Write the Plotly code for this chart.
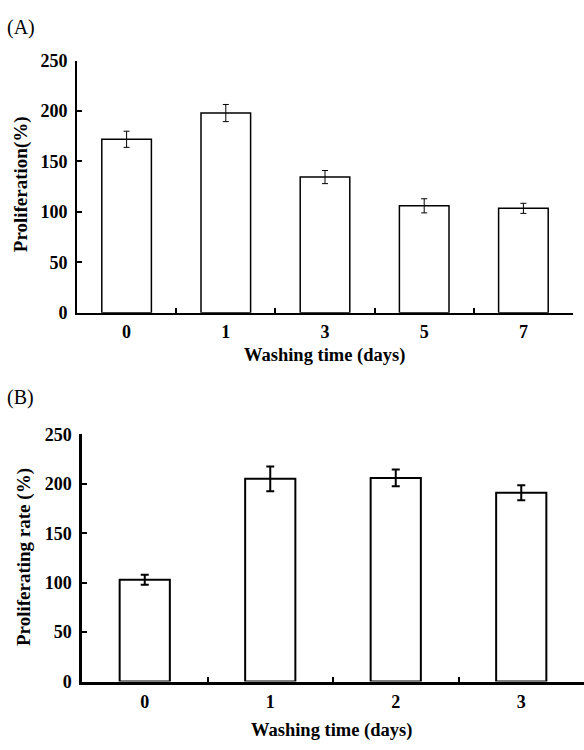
import plotly.graph_objects as go

# Panel A data
cats_a = ["0", "1", "3", "5", "7"]
vals_a = [172, 198, 134.5, 106, 103.5]
err_a = [8, 8.5, 6.5, 7, 5]

# Panel B data
cats_b = ["0", "1", "2", "3"]
vals_b = [103, 205, 206, 191]
err_b = [5, 12.5, 8.5, 7.5]

yticks = [0, 50, 100, 150, 200, 250]

W, H = 584, 750
FONT = "Liberation Serif"

fig = go.Figure()

fig.add_trace(go.Bar(
    x=cats_a, y=vals_a, width=0.5,
    marker=dict(color="white", line=dict(color="black", width=1.5)),
    error_y=dict(type="data", array=err_a, color="black", thickness=1, width=3),
    xaxis="x", yaxis="y", showlegend=False,
))
fig.add_trace(go.Bar(
    x=cats_b, y=vals_b, width=0.4,
    marker=dict(color="white", line=dict(color="black", width=2)),
    error_y=dict(type="data", array=err_b, color="black", thickness=2, width=4),
    xaxis="x2", yaxis="y2", showlegend=False,
))

def px_x(p):
    return p / W

def px_y(p):
    return 1 - p / H

tickfont = dict(family=FONT, size=18, color="black", weight="bold")

common_x = dict(type="category", showline=True, linecolor="black",
                ticks="inside", ticklen=5, tickcolor="black", tickwidth=2,
                tickson="boundaries", showgrid=False, zeroline=False,
                tickfont=tickfont, ticklabelstandoff=2)
common_y = dict(showline=True, linecolor="black", ticks="inside", ticklen=5,
                tickcolor="black", tickwidth=2, tickvals=yticks,
                showgrid=False, zeroline=False, range=[0, 250],
                tickfont=tickfont, ticklabelstandoff=4)

fig.update_layout(
    width=W, height=H,
    margin=dict(l=0, r=0, t=0, b=0),
    paper_bgcolor="white", plot_bgcolor="white",
    bargap=0.5,
    xaxis=dict(domain=[px_x(77), px_x(573)], anchor="y", range=[-0.5, 4.5],
               linewidth=2, **common_x),
    yaxis=dict(domain=[px_y(311), px_y(52)], anchor="x", linewidth=2, **common_y),
    xaxis2=dict(domain=[px_x(82), 1.0], anchor="y2", range=[-0.5, 3.5],
                linewidth=2.5, **common_x),
    yaxis2=dict(domain=[px_y(690), px_y(436)], anchor="x2", linewidth=2.5, **common_y),
    annotations=[
        dict(text="(A)", x=px_x(5), y=px_y(18), xref="paper", yref="paper",
             xanchor="left", yanchor="middle", showarrow=False,
             font=dict(family=FONT, size=20, color="black")),
        dict(text="(B)", x=px_x(5), y=px_y(398), xref="paper", yref="paper",
             xanchor="left", yanchor="middle", showarrow=False,
             font=dict(family=FONT, size=20, color="black")),
        dict(text="Washing time (days)", x=px_x(325), y=px_y(355), xref="paper",
             yref="paper", xanchor="center", yanchor="middle", showarrow=False,
             font=dict(family=FONT, size=18.5, color="black", weight="bold")),
        dict(text="Washing time (days)", x=px_x(331), y=px_y(740), xref="paper",
             yref="paper", xanchor="center", yanchor="middle", showarrow=False,
             font=dict(family=FONT, size=18.5, color="black", weight="bold")),
        dict(text="Proliferation(%)", x=px_x(21), y=px_y(179), xref="paper",
             yref="paper", xanchor="center", yanchor="middle", showarrow=False,
             textangle=-90,
             font=dict(family=FONT, size=19, color="black", weight="bold")),
        dict(text="Proliferating rate (%)", x=px_x(24), y=px_y(562), xref="paper",
             yref="paper", xanchor="center", yanchor="middle", showarrow=False,
             textangle=-90,
             font=dict(family=FONT, size=19, color="black", weight="bold")),
    ],
)

fig.write_html("out.html")
